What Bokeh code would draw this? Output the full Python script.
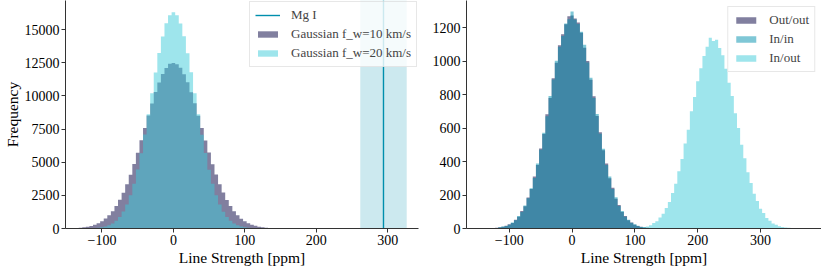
import numpy as np
from bokeh.plotting import figure
from bokeh.models import Range1d, FixedTicker, BoxAnnotation, Legend, LegendItem
from bokeh.layouts import row
from bokeh.embed import file_html
from bokeh.resources import INLINE

# ---------------- data ----------------
bin_width = 5
# left panel: Gaussian f_w = 10 km/s
g10_centers = list(range(-140, 145, 5))
g10_counts = [27, 42, 64, 95, 140, 198, 286, 401, 548, 748, 992, 1310, 1688, 2160, 2700,
              3345, 4055, 4865, 5720, 6650, 7575, 8530, 9425, 10290, 11020, 11660, 12100,
              12420, 12490, 12390, 12130, 11640, 11040, 10270, 9445, 8510, 7590, 6630, 5735,
              4850, 4065, 3330, 2710, 2150, 1695, 1300, 998, 742, 551, 397, 286, 199, 140,
              93, 65, 41, 28]
# left panel: Gaussian f_w = 20 km/s
g20_centers = list(range(-110, 115, 5))
g20_counts = [30, 52, 90, 148, 242, 378, 584, 870, 1276, 1805, 2510, 3375, 4445, 5680, 7095,
              8610, 10210, 11765, 13245, 14490, 15480, 16080, 16310, 16095, 15465, 14510,
              13230, 11780, 10195, 8625, 7080, 5690, 4435, 3385, 2500, 1812, 1270, 876, 580,
              382, 238, 150, 88, 53, 29]
mg_line = 294
mg_err = 32.5

# right panel
oo_centers = list(range(-125, 130, 5))
outout_counts = [2, 4, 8, 11, 17, 25, 33, 52, 70, 104, 133, 185, 236, 310, 380, 478, 565, 682,
                 780, 898, 990, 1095, 1160, 1220, 1268, 1272, 1255, 1230, 1170, 1080, 1000,
                 888, 790, 672, 575, 468, 388, 300, 243, 178, 140, 98, 75, 49, 36, 22, 15, 10,
                 6, 4, 2]
inin_counts = [1, 3, 7, 12, 15, 23, 36, 49, 74, 99, 138, 180, 240, 302, 389, 470, 572, 670,
               792, 890, 1002, 1085, 1150, 1225, 1250, 1296, 1248, 1222, 1175, 1098, 992, 900,
               780, 684, 566, 476, 380, 310, 236, 186, 134, 104, 70, 52, 34, 25, 16, 9, 7, 3, 2]
io_centers = list(range(100, 355, 5))
inout_counts = [2, 3, 5, 8, 12, 20, 33, 44, 66, 88, 123, 158, 212, 268, 342, 415, 508, 590, 700,
                785, 880, 958, 1030, 1085, 1140, 1120, 1128, 1078, 1035, 955, 870, 792, 688,
                600, 500, 420, 336, 272, 208, 165, 118, 92, 62, 46, 30, 22, 13, 9, 6, 4, 2]

left_xticks = [-100, 0, 100, 200, 300]
left_yticks = [0, 2500, 5000, 7500, 10000, 12500, 15000]
right_xticks = [-100, 0, 100, 200, 300]
right_yticks = [0, 200, 400, 600, 800, 1000, 1200]
left_xrange = (-151, 343)
left_yrange = (0, 17200)
right_xrange = (-168, 397)
right_yrange = (0, 1362)

# ---------------- style ----------------
FONT = "Liberation Serif"
PURPLE = "#03003f"
TEAL = "#008fad"
CYAN = "#3dcbd9"


def style(p, xticks, yticks, ylabel=None):
    p.outline_line_color = None
    p.xgrid.visible = False
    p.ygrid.visible = False
    for ax in (p.xaxis[0], p.yaxis[0]):
        ax.axis_line_color = "#333333"
        ax.major_tick_line_color = "#333333"
        ax.major_tick_out = 4
        ax.major_tick_in = 0
        ax.minor_tick_line_color = None
        ax.major_label_text_font = FONT
        ax.major_label_text_font_size = "14px"
        ax.major_label_text_color = "black"
        ax.axis_label_text_font = FONT
        ax.axis_label_text_font_size = "15.5px"
        ax.axis_label_text_font_style = "normal"
        ax.axis_label_text_color = "black"
        ax.major_label_standoff = 2
        ax.axis_label_standoff = 1
    p.xaxis[0].ticker = FixedTicker(ticks=xticks)
    p.yaxis[0].ticker = FixedTicker(ticks=yticks)
    p.xaxis[0].axis_label = "Line Strength [ppm]"
    if ylabel:
        p.yaxis[0].axis_label = ylabel


def style_legend(leg):
    leg.label_text_font = FONT
    leg.label_text_font_size = "13px"
    leg.glyph_width = 25
    leg.glyph_height = 8
    leg.label_standoff = 11
    leg.spacing = 3
    leg.padding = 5
    leg.border_line_color = "#d0d0d0"
    leg.background_fill_alpha = 0.8


# ---------------- left panel ----------------
p1 = figure(frame_width=353, frame_height=228, output_backend="svg", toolbar_location=None,
            x_range=Range1d(*left_xrange), y_range=Range1d(*left_yrange),
            min_border_top=0, min_border_right=3, min_border_left=0, min_border_bottom=0)
style(p1, left_xticks, left_yticks, "Frequency")

p1.add_layout(BoxAnnotation(left=mg_line - mg_err, right=mg_line + mg_err,
                            fill_color=TEAL, fill_alpha=0.2, line_color=None, level="underlay"))
r_mg = p1.line(x=[mg_line, mg_line], y=[left_yrange[0], left_yrange[1]],
               line_color=TEAL, line_width=1.4)
r10 = p1.varea_step(x=g10_centers, y1=0, y2=g10_counts, step_mode="center",
                    fill_color=PURPLE, fill_alpha=0.5)
r20 = p1.varea_step(x=g20_centers, y1=0, y2=g20_counts, step_mode="center",
                    fill_color=CYAN, fill_alpha=0.5)
leg1 = Legend(items=[LegendItem(label="Mg I", renderers=[r_mg]),
                     LegendItem(label="Gaussian f_w=10 km/s", renderers=[r10]),
                     LegendItem(label="Gaussian f_w=20 km/s", renderers=[r20])],
              location="top_right", margin=1)
style_legend(leg1)
p1.add_layout(leg1)

# ---------------- right panel ----------------
p2 = figure(frame_width=355, frame_height=228, output_backend="svg", toolbar_location=None,
            x_range=Range1d(*right_xrange), y_range=Range1d(*right_yrange),
            min_border_top=0, min_border_right=0, min_border_left=45, min_border_bottom=0)
style(p2, right_xticks, right_yticks)

ro = p2.varea_step(x=oo_centers, y1=0, y2=outout_counts, step_mode="center",
                   fill_color=PURPLE, fill_alpha=0.5)
ri = p2.varea_step(x=oo_centers, y1=0, y2=inin_counts, step_mode="center",
                   fill_color=TEAL, fill_alpha=0.5)
rio = p2.varea_step(x=io_centers, y1=0, y2=inout_counts, step_mode="center",
                    fill_color=CYAN, fill_alpha=0.5)
leg2 = Legend(items=[LegendItem(label="Out/out", renderers=[ro]),
                     LegendItem(label="In/in", renderers=[ri]),
                     LegendItem(label="In/out", renderers=[rio])],
              location="top_right", margin=6)
style_legend(leg2)
p2.add_layout(leg2)

layout = row(p1, p2)
open("out.html", "w").write(file_html(layout, INLINE))
